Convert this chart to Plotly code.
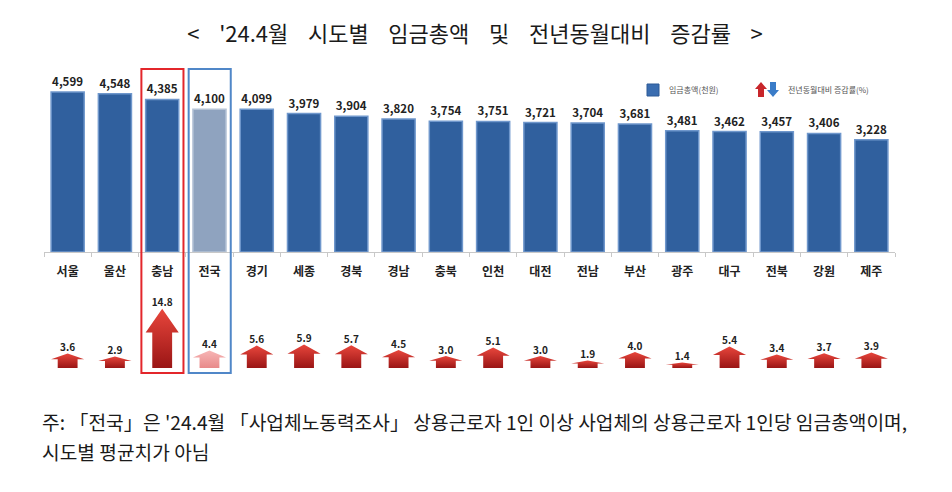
import plotly.graph_objects as go

regions = ["서울", "울산", "충남", "전국", "경기", "세종", "경북", "경남", "충북",
           "인천", "대전", "전남", "부산", "광주", "대구", "전북", "강원", "제주"]
wages = [4599, 4548, 4385, 4100, 4099, 3979, 3904, 3820, 3754,
         3751, 3721, 3704, 3681, 3481, 3462, 3457, 3406, 3228]
growth = [3.6, 2.9, 14.8, 4.4, 5.6, 5.9, 5.7, 4.5, 3.0,
          5.1, 3.0, 1.9, 4.0, 1.4, 5.4, 3.4, 3.7, 3.9]
title_words = ["<", "'24.4월", "시도별", "임금총액", "및", "전년동월대비", "증감률", ">"]
note_lines = ["주: 「전국」은 '24.4월 「사업체노동력조사」 상용근로자 1인 이상 사업체의 상용근로자 1인당 임금총액이며,",
              "시도별 평균치가 아님"]
legend_labels = ["임금총액(천원)", "전년동월대비 증감률(%)"]
highlight_red = "충남"
highlight_blue = "전국"

W, H = 952, 492
ML, MR = 44, 57
FONT = "Noto Sans CJK KR"


def px_x(p):
    return (p - ML) / (W - ML - MR)


def px_y(p):
    return 1 - p / H


idx = list(range(len(regions)))
bar_colors = ["#8FA3BF" if r == highlight_blue else "#30609E" for r in regions]
bar_lines = ["#B5C3D6" if r == highlight_blue else "#6F97CC" for r in regions]

fig = go.Figure()
fig.add_trace(go.Bar(
    x=idx, y=wages, width=0.7,
    marker=dict(color=bar_colors, line=dict(color=bar_lines, width=1.5)),
    text=[f"{v:,}" for v in wages], textposition="outside",
    textfont=dict(family=FONT, size=11.5, color="#222", weight="bold"),
    cliponaxis=False, showlegend=False, hoverinfo="skip",
    xaxis="x", yaxis="y",
))

# block arrows for growth rates
HW, SW, HEAD = 0.35, 0.21, 0.4
for i, (r, g) in enumerate(zip(regions, growth)):
    hy = g * (1 - HEAD)
    xs = [i - SW, i - SW, i - HW, i, i + HW, i + SW, i + SW, i - SW]
    ys = [0, hy, hy, g, hy, hy, 0, 0]
    if r == highlight_blue:
        grad = [[0, "#E88A8A"], [1, "#F7B5B5"]]
    else:
        grad = [[0, "#9A1515"], [1, "#E8463C"]]
    fig.add_trace(go.Scatter(
        x=xs, y=ys, mode="lines", fill="toself",
        line=dict(width=0, color="rgba(0,0,0,0)"),
        fillgradient=dict(type="vertical", colorscale=grad),
        showlegend=False, hoverinfo="skip", xaxis="x2", yaxis="y2",
    ))

fig.add_trace(go.Scatter(
    x=idx, y=growth, mode="text", text=[f"{v:.1f}" for v in growth],
    textposition="top center",
    textfont=dict(family=FONT, size=10, color="#222", weight="bold"),
    cliponaxis=False, showlegend=False, hoverinfo="skip",
    xaxis="x2", yaxis="y2",
))

shapes = []
for name, col in [(highlight_red, "#E3262B"), (highlight_blue, "#5087C8")]:
    k = regions.index(name)
    shapes.append(dict(type="rect", xref="x", yref="paper",
                       x0=k - 0.44, x1=k + 0.45, y0=px_y(373), y1=px_y(69),
                       line=dict(color=col, width=2), fillcolor="rgba(0,0,0,0)"))

# legend icons
shapes.append(dict(type="rect", xref="paper", yref="paper",
                   x0=px_x(647), x1=px_x(659), y0=px_y(96), y1=px_y(84),
                   fillcolor="#3A6DB0", line=dict(color="#2D5A96", width=1)))
shapes.append(dict(type="path", xref="paper", yref="paper",
                   path=f"M {px_x(758)} {px_y(97)} L {px_x(758)} {px_y(89)} L {px_x(755)} {px_y(89)} "
                        f"L {px_x(761)} {px_y(82)} L {px_x(767)} {px_y(89)} L {px_x(764)} {px_y(89)} "
                        f"L {px_x(764)} {px_y(97)} Z",
                   fillcolor="#C8262B", line=dict(width=0)))
shapes.append(dict(type="path", xref="paper", yref="paper",
                   path=f"M {px_x(770)} {px_y(82)} L {px_x(770)} {px_y(90)} L {px_x(767)} {px_y(90)} "
                        f"L {px_x(773)} {px_y(97)} L {px_x(779)} {px_y(90)} L {px_x(776)} {px_y(90)} "
                        f"L {px_x(776)} {px_y(82)} Z",
                   fillcolor="#3A7CC8", line=dict(width=0)))

annotations = [
    dict(text=legend_labels[0], x=px_x(667), y=px_y(90), xref="paper", yref="paper",
         xanchor="left", yanchor="middle", showarrow=False,
         font=dict(family=FONT, size=8, color="#555")),
    dict(text=legend_labels[1], x=px_x(786), y=px_y(90), xref="paper", yref="paper",
         xanchor="left", yanchor="middle", showarrow=False,
         font=dict(family=FONT, size=8, color="#555")),
    dict(text=note_lines[0], x=px_x(40), y=px_y(422), xref="paper", yref="paper",
         xanchor="left", yanchor="middle", showarrow=False,
         font=dict(family=FONT, size=19.2, color="#1a1a1a")),
    dict(text=note_lines[1], x=px_x(40), y=px_y(452), xref="paper", yref="paper",
         xanchor="left", yanchor="middle", showarrow=False,
         font=dict(family=FONT, size=19.2, color="#1a1a1a")),
]

gap = "\u00a0" * 4
title_text = gap.join(title_words)

fig.update_layout(
    width=W, height=H,
    margin=dict(l=ML, r=MR, t=0, b=0),
    paper_bgcolor="white", plot_bgcolor="white",
    font=dict(family=FONT),
    title=dict(text=title_text, x=475 / W, xanchor="center", y=px_y(34), yanchor="middle",
               font=dict(family=FONT, size=22, color="#1a1a1a")),
    xaxis=dict(range=[-0.5, 17.5], tickmode="array", tickvals=idx, ticktext=regions,
               ticks="", showgrid=False, zeroline=False, showline=True,
               linecolor="#C8C8C8", linewidth=1, ticklabelstandoff=9,
               tickfont=dict(family=FONT, size=12, color="#222", weight="bold"),
               minor=dict(ticks="outside", tick0=-0.5, dtick=1, ticklen=4, tickcolor="#C8C8C8")),
    yaxis=dict(domain=[px_y(252), px_y(78)], range=[0, 5000], visible=False),
    xaxis2=dict(anchor="y2", matches="x", visible=False),
    yaxis2=dict(domain=[px_y(368), px_y(304)], range=[0, 16], visible=False),
    shapes=shapes, annotations=annotations,
)

fig.write_html("out.html")
